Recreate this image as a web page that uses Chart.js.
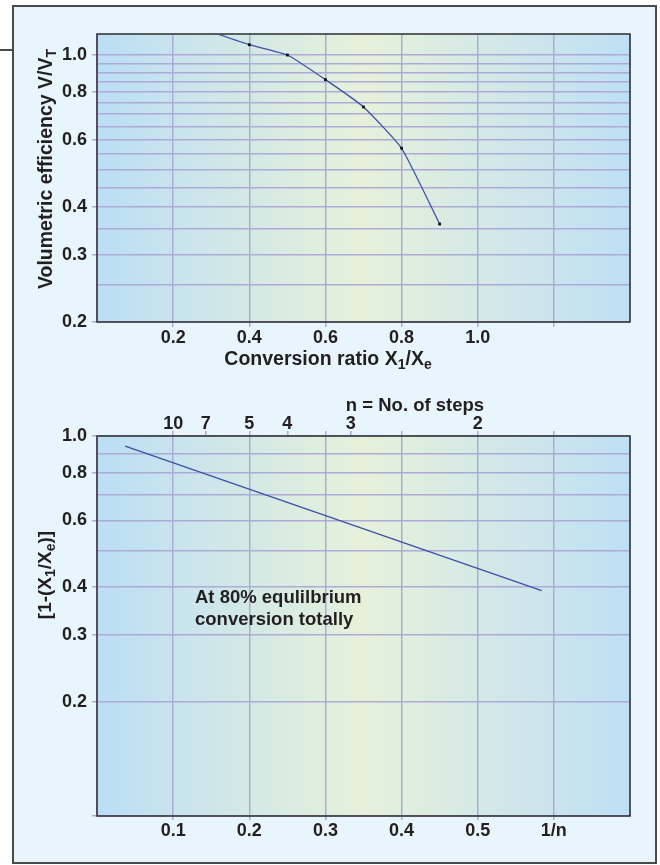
<!DOCTYPE html>
<html><head><meta charset="utf-8">
<script src="https://cdn.jsdelivr.net/npm/chart.js@4.4.1/dist/chart.umd.min.js"></script>
<style>
html,body{margin:0;padding:0;background:#fff;}
#wrap{position:relative;width:660px;height:865px;overflow:hidden;}
#frame{position:absolute;left:12px;top:5px;width:641px;height:855px;border:2px solid #4a4a4a;background:#e9f5fc;}
#stub{position:absolute;left:0;top:49px;width:13px;height:2px;background:#4a4a4a;}
canvas{position:absolute;left:0;}
#c1{top:0;} #c2{top:380px;}
</style></head><body>
<div id="wrap"><div id="frame"></div><div id="stub"></div>
<canvas id="c1" width="660" height="380"></canvas>
<canvas id="c2" width="660" height="485"></canvas></div>
<script>
// ---- Top chart data ----
const topX = [0.3, 0.4, 0.5, 0.6, 0.7, 0.8, 0.9];
const topY = [1.15, 1.064, 1.0, 0.862, 0.731, 0.57, 0.361];
const topXTicks = [0, 0.2, 0.4, 0.6, 0.8, 1.0, 1.2, 1.4];
const topXLabels = ['', '0.2', '0.4', '0.6', '0.8', '1.0', '', ''];
const topYTicks = [0.2,0.25,0.3,0.35,0.4,0.45,0.5,0.55,0.6,0.65,0.7,0.75,0.8,0.85,0.9,0.95,1.0];
const topYLabels = ['0.2','','0.3','','0.4','','','','0.6','','','','0.8','','','','1.0'];

// ---- Bottom chart data ----
const botX = [0.037, 0.584];
const botY = [0.94, 0.392];
const botXTicks = [0, 0.1, 0.2, 0.3, 0.4, 0.5, 0.6, 0.7];
const botXLabels = ['', '0.1', '0.2', '0.3', '0.4', '0.5', '1/n', ''];
const botYTicks = [0.1,0.2,0.3,0.4,0.5,0.6,0.7,0.8,0.9,1.0];
const botYLabels = ['', '0.2','0.3','0.4','','0.6','','0.8','','1.0'];
const nSteps = [10, 7, 5, 4, 3, 2];
const topStubs = [0.3, 0.4, 0.6];

const GRID = '#aeaad8';
const TXT = '#231f20';
const FAM = '"Liberation Sans", Arial, Helvetica, sans-serif';
Chart.defaults.font.family = FAM;
Chart.defaults.font.weight = 'bold';
Chart.defaults.font.size = 18;
Chart.defaults.color = TXT;

function rich(ctx, parts, x, y, size, rot, align) {
  ctx.save();
  ctx.translate(x, y);
  if (rot) ctx.rotate(rot);
  const big = 'bold ' + size + 'px ' + FAM;
  const small = 'bold ' + Math.round(size * 0.72) + 'px ' + FAM;
  let w = 0;
  parts.forEach(p => { ctx.font = p.sub ? small : big; p.w = ctx.measureText(p.t).width; w += p.w; });
  let cx = align === 'left' ? 0 : -w / 2;
  ctx.textBaseline = 'alphabetic';
  ctx.textAlign = 'left';
  ctx.fillStyle = TXT;
  parts.forEach(p => { ctx.font = p.sub ? small : big; ctx.fillText(p.t, cx, p.sub ? size * 0.22 : 0); cx += p.w; });
  ctx.restore();
}

function makeFrame(id) {
  return {
    id: id,
    beforeDraw(chart) {
      const {ctx, chartArea: a} = chart;
      const g = ctx.createLinearGradient(a.left, 0, a.right, 0);
      g.addColorStop(0, '#bbdef5');
      g.addColorStop(0.5, '#e6f1da');
      g.addColorStop(1, '#bedff5');
      ctx.save(); ctx.fillStyle = g; ctx.fillRect(a.left, a.top, a.width, a.height); ctx.restore();
    },
    beforeDatasetsDraw(chart) {
      const {ctx, chartArea: a} = chart;
      ctx.save(); ctx.strokeStyle = '#2e2e2e'; ctx.lineWidth = 1.5;
      ctx.strokeRect(a.left, a.top, a.width, a.height); ctx.restore();
    }
  };
}

const titles1 = {
  id: 'titles1',
  afterDraw(chart) {
    const ctx = chart.ctx;
    rich(ctx, [{t:'Conversion ratio X'},{t:'1',sub:true},{t:'/X'},{t:'e',sub:true}], 328, 365, 19.5, 0);
    rich(ctx, [{t:'Volumetric efficiency V/V'},{t:'T',sub:true}], 52, 169, 19.5, -Math.PI/2);
  }
};
const titles2 = {
  id: 'titles2',
  afterDraw(chart) {
    const ctx = chart.ctx;
    rich(ctx, [{t:'n = No. of steps'}], 415, 31, 18.5, 0);
    rich(ctx, [{t:'[1-(X'},{t:'1',sub:true},{t:'/X'},{t:'e',sub:true},{t:')]'}], 51, 195, 19, -Math.PI/2);
    rich(ctx, [{t:'At 80% equlilbrium'}], 195, 223, 18.5, 0, 'left');
    rich(ctx, [{t:'conversion totally'}], 195, 245, 18.5, 0, 'left');
  }
};

const tickCol = (labels) => (c) => (labels[c.index] ? GRID : 'rgba(0,0,0,0)');

new Chart(document.getElementById('c1'), {
  type: 'line',
  data: { datasets: [{
    data: topX.map((x, i) => ({x: x, y: topY[i]})),
    borderColor: '#3d4fa6', borderWidth: 1.3, tension: 0.15,
    pointStyle: 'rect', pointRadius: topX.map((x, i) => i === 0 ? 0 : 2),
    pointBackgroundColor: '#111', pointBorderWidth: 0
  }]},
  options: {
    responsive: false, animation: false, devicePixelRatio: 1,
    layout: { padding: { top: 34, right: 30, left: 0, bottom: 0 } },
    plugins: { legend: {display: false}, tooltip: {enabled: false} },
    scales: {
      x: {
        type: 'linear', min: 0, max: 1.4,
        afterBuildTicks: s => { s.ticks = topXTicks.map(v => ({value: v})); },
        afterFit: s => { s.height = 58; },
        ticks: { autoSkip: false, maxRotation: 0, padding: 0, callback: (v, i) => topXLabels[i] },
        grid: { color: GRID, lineWidth: 1.5, tickLength: 5, tickColor: c => (c.index > 0 && c.index < 7 ? GRID : 'rgba(0,0,0,0)') },
        border: { display: false }
      },
      y: {
        type: 'logarithmic', min: 0.2, max: 1.135,
        afterBuildTicks: s => { s.ticks = topYTicks.map(v => ({value: v})); },
        afterFit: s => { s.width = 97; },
        ticks: { autoSkip: false, padding: 5, callback: (v, i) => topYLabels[i] },
        grid: { color: GRID, lineWidth: 1.5, tickLength: 5, tickColor: tickCol(topYLabels) },
        border: { display: false }
      }
    }
  },
  plugins: [makeFrame('f1'), titles1]
});

const topAxisTicks = nSteps.map(n => ({v: 1 / n, l: String(n)}))
  .concat(topStubs.map(v => ({v: v, l: ''})))
  .sort((a, b) => a.v - b.v);

new Chart(document.getElementById('c2'), {
  type: 'line',
  data: { datasets: [{
    data: botX.map((x, i) => ({x: x, y: botY[i]})),
    borderColor: '#3d4fa6', borderWidth: 1.3, pointRadius: 0
  }]},
  options: {
    responsive: false, animation: false, devicePixelRatio: 1,
    layout: { padding: { top: 0, right: 30, left: 0, bottom: 0 } },
    plugins: { legend: {display: false}, tooltip: {enabled: false} },
    scales: {
      x: {
        type: 'linear', min: 0, max: 0.7,
        afterBuildTicks: s => { s.ticks = botXTicks.map(v => ({value: v})); },
        afterFit: s => { s.height = 49; },
        ticks: { autoSkip: false, maxRotation: 0, padding: 0, callback: (v, i) => botXLabels[i] },
        grid: { color: GRID, lineWidth: 1.5, tickLength: 4, tickColor: c => (c.index > 0 && c.index < 7 ? GRID : 'rgba(0,0,0,0)') },
        border: { display: false }
      },
      x2: {
        type: 'linear', position: 'top', min: 0, max: 0.7,
        afterBuildTicks: s => { s.ticks = topAxisTicks.map(t => ({value: t.v})); },
        afterFit: s => { s.height = 56; },
        ticks: { autoSkip: false, maxRotation: 0, padding: -4, callback: (v, i) => topAxisTicks[i].l },
        grid: { drawOnChartArea: false, color: GRID, lineWidth: 1.5, tickLength: 5, tickColor: GRID },
        border: { display: false }
      },
      y: {
        type: 'logarithmic', min: 0.1, max: 1.0,
        afterBuildTicks: s => { s.ticks = botYTicks.map(v => ({value: v})); },
        afterFit: s => { s.width = 97; },
        ticks: { autoSkip: false, padding: 5, callback: (v, i) => botYLabels[i] },
        grid: { color: GRID, lineWidth: 1.5, tickLength: 5, tickColor: c => (botYLabels[c.index] || c.index === 0 ? GRID : 'rgba(0,0,0,0)') },
        border: { display: false }
      }
    }
  },
  plugins: [makeFrame('f2'), titles2]
});
</script>
</body></html>
